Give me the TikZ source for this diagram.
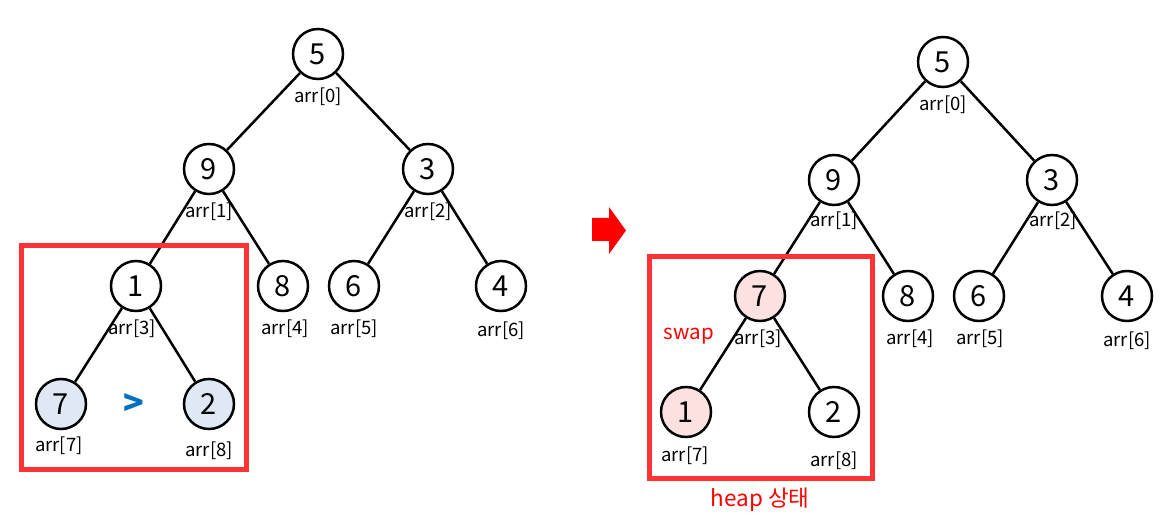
\documentclass[tikz,border=0pt]{standalone}
\usepackage{fontspec}
\setmainfont{Noto Sans CJK KR}
\begin{document}
\begin{tikzpicture}[x=1pt,y=-1pt,
  tnode/.style={circle,draw=black,line width=2.5pt,minimum size=50pt,inner sep=0pt,font=\fontsize{29}{31}\selectfont,fill=white},
  idx/.style={font=\fontsize{18.5}{20}\selectfont,inner sep=0pt},
  edge/.style={line width=2.5pt,black},
  redbox/.style={draw={rgb,255:red,255;green,51;blue,51},line width=5pt}]
\useasboundingbox (0,0) rectangle (1172,526);
% left tree
\node[tnode] (a0) at (318,54) {5};
\node[tnode] (a1) at (209,169) {9};
\node[tnode] (a2) at (428,169) {3};
\node[tnode] (a3) at (136,286) {1};
\node[tnode] (a4) at (283,286) {8};
\node[tnode] (a5) at (354,286) {6};
\node[tnode] (a6) at (501,286) {4};
\node[tnode,fill={rgb,255:red,222;green,233;blue,245}] (a7) at (61,404) {7};
\node[tnode,fill={rgb,255:red,222;green,233;blue,245}] (a8) at (209,404) {2};
\draw[edge] (a0)--(a1) (a0)--(a2) (a1)--(a3) (a1)--(a4) (a2)--(a5) (a2)--(a6) (a3)--(a7) (a3)--(a8);
\node[idx] (la0) at (318,97) {arr[0]};
\node[idx] (la1) at (209,212) {arr[1]};
\node[idx] (la2) at (428,212) {arr[2]};
\node[idx] (la3) at (132,329) {arr[3]};
\node[idx] (la4) at (285,329) {arr[4]};
\node[idx] (la5) at (354,329) {arr[5]};
\node[idx] (la6) at (501,331) {arr[6]};
\node[idx] (la7) at (59,446) {arr[7]};
\node[idx] (la8) at (209,451) {arr[8]};
\node[font=\bfseries\fontsize{34}{36}\selectfont,text={rgb,255:red,0;green,112;blue,192},inner sep=0pt] (gt) at (134,405) {>};
\node[redbox,minimum width=225pt,minimum height=223pt,inner sep=0pt] (boxL) at (133.5,357.5) {};
% arrow
\fill[red] (592,218) -- (609,218) -- (609,207) -- (626,230.5) -- (609,254) -- (609,241) -- (592,241) -- cycle;
\coordinate (arr) at (609,230);
% right tree
\node[tnode] (b0) at (943,62) {5};
\node[tnode] (b1) at (834,180) {9};
\node[tnode] (b2) at (1052,180) {3};
\node[tnode,fill={rgb,255:red,253;green,225;blue,225}] (b3) at (760,296) {7};
\node[tnode] (b4) at (908,296) {8};
\node[tnode] (b5) at (979,296) {6};
\node[tnode] (b6) at (1127,296) {4};
\node[tnode,fill={rgb,255:red,253;green,225;blue,225}] (b7) at (686,412) {1};
\node[tnode] (b8) at (834,412) {2};
\draw[edge] (b0)--(b1) (b0)--(b2) (b1)--(b3) (b1)--(b4) (b2)--(b5) (b2)--(b6) (b3)--(b7) (b3)--(b8);
\node[idx] (lb0) at (943,105) {arr[0]};
\node[idx] (lb1) at (834,221) {arr[1]};
\node[idx] (lb2) at (1053,221) {arr[2]};
\node[idx] (lb3) at (758,339) {arr[3]};
\node[idx] (lb4) at (910,339) {arr[4]};
\node[idx] (lb5) at (980,339) {arr[5]};
\node[idx] (lb6) at (1127,341) {arr[6]};
\node[idx] (lb7) at (685,456) {arr[7]};
\node[idx] (lb8) at (834,461) {arr[8]};
\node[font=\fontsize{20.5}{22}\selectfont,text=red,inner sep=0pt] (swap) at (689,336) {swap};
\node[redbox,minimum width=223pt,minimum height=221pt,inner sep=0pt] (boxR) at (760.5,367.5) {};
\node[font=\fontsize{22.5}{24}\selectfont,text=red,inner sep=0pt] (heap) at (760,500) {heap 상태};
\end{tikzpicture}
\end{document}
